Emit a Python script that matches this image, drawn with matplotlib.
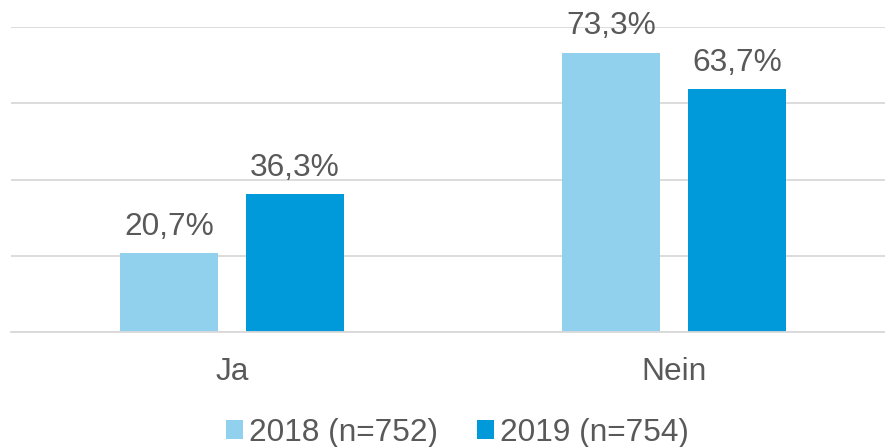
import numpy as np
import matplotlib
matplotlib.use("Agg")
from matplotlib import pyplot as plt

categories = ["Ja", "Nein"]
series_names = ["2018 (n=752)", "2019 (n=754)"]
values_2018 = [20.7, 73.3]
values_2019 = [36.3, 63.7]

colors = ["#92D1EE", "#0099DA"]
text_color = "#595959"
fs = 22.8

plt.rcParams["font.family"] = ["Liberation Sans", "DejaVu Sans"]

fig = plt.figure(figsize=(8.85, 4.47), dpi=100)
ax = fig.add_axes([11 / 885, (447 - 332) / 447, 884 / 885, 305 / 447])

x = np.arange(len(categories))
w = 0.222
off = 0.1425
for vals, col, name, sign in [(values_2018, colors[0], series_names[0], -1),
                              (values_2019, colors[1], series_names[1], 1)]:
    bars = ax.bar(x + sign * off, vals, w, color=col, label=name, zorder=2)
    for b, v in zip(bars, vals):
        ax.annotate(f"{v:.1f}%".replace(".", ","),
                    (b.get_x() + b.get_width() / 2, b.get_height()),
                    xytext=(0, 13), textcoords="offset points",
                    ha="center", va="baseline", fontsize=fs,
                    color=text_color, annotation_clip=False)

ax.set_xlim(-0.5, 1.5)
ax.set_ylim(0, 80)
ax.set_yticks([0, 20, 40, 60, 80])
ax.yaxis.grid(True, color="#D9D9D9", linewidth=1.3, zorder=0)
ax.set_axisbelow(True)
ax.tick_params(axis="y", left=False, labelleft=False)
ax.set_xticks(x)
ax.set_xticklabels(categories, fontsize=fs, color=text_color)
ax.tick_params(axis="x", length=0, pad=18)
for s in ["top", "right", "left"]:
    ax.spines[s].set_visible(False)
ax.spines["bottom"].set_color("#D9D9D9")
ax.spines["bottom"].set_linewidth(1.3)

leg = fig.legend(loc="lower center", bbox_to_anchor=(0.517, -0.066), ncol=2,
                 frameon=False, fontsize=fs, handlelength=0.54,
                 handleheight=0.54, handletextpad=0.19, columnspacing=1.23)
for t in leg.get_texts():
    t.set_color(text_color)

fig.savefig("out.png", dpi=100)
